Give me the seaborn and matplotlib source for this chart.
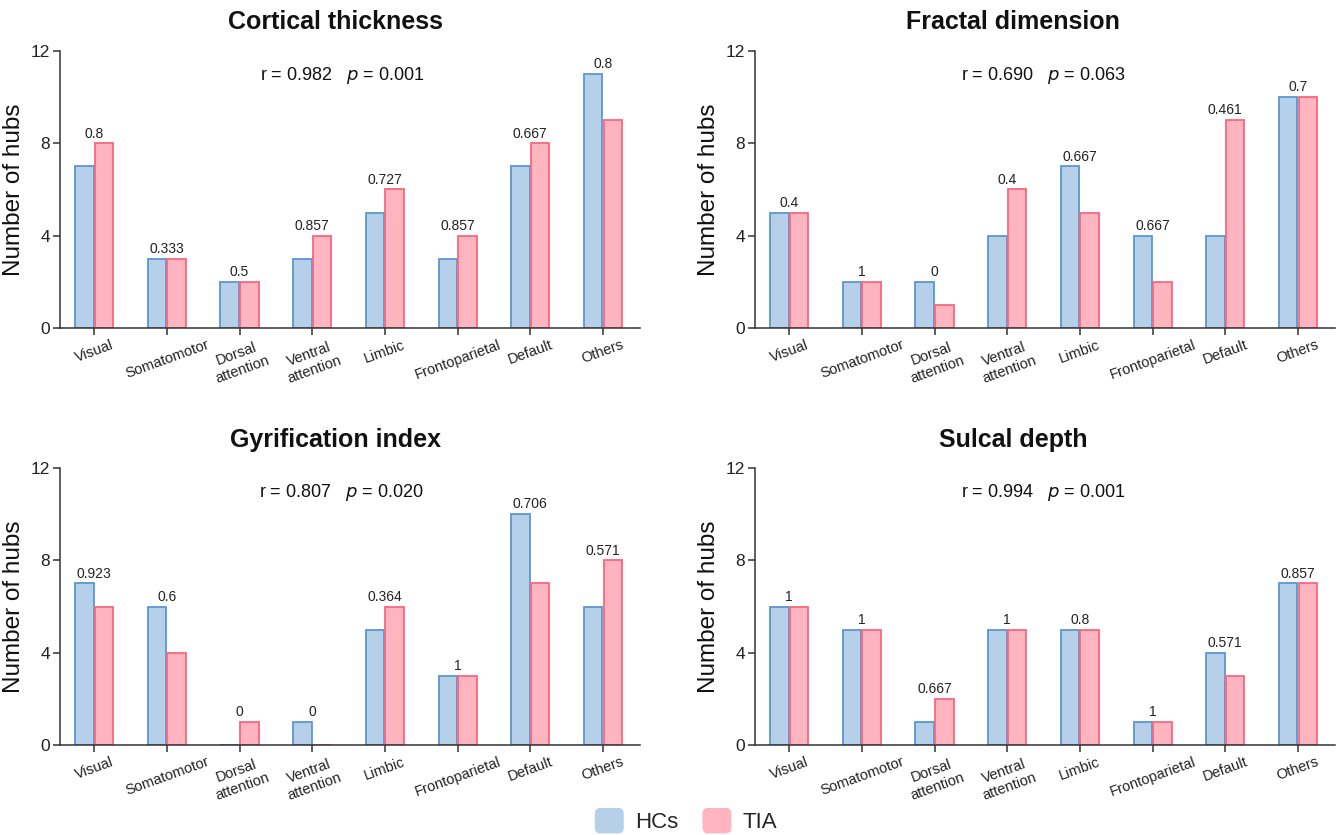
import matplotlib
matplotlib.use("Agg")
import matplotlib.pyplot as plt
import seaborn as sns
import pandas as pd
from matplotlib.patches import FancyBboxPatch
from matplotlib.legend_handler import HandlerPatch

categories = ["Visual", "Somatomotor", "Dorsal\nattention", "Ventral\nattention",
              "Limbic", "Frontoparietal", "Default", "Others"]
groups = ["HCs", "TIA"]

titles = ["Cortical thickness", "Fractal dimension", "Gyrification index", "Sulcal depth"]
r_values = ["0.982", "0.690", "0.807", "0.994"]
p_values = ["0.001", "0.063", "0.020", "0.001"]

ct_hc = [7, 3, 2, 3, 5, 3, 7, 11]
ct_tia = [8, 3, 2, 4, 6, 4, 8, 9]
ct_lab = ["0.8", "0.333", "0.5", "0.857", "0.727", "0.857", "0.667", "0.8"]

fd_hc = [5, 2, 2, 4, 7, 4, 4, 10]
fd_tia = [5, 2, 1, 6, 5, 2, 9, 10]
fd_lab = ["0.4", "1", "0", "0.4", "0.667", "0.667", "0.461", "0.7"]

gi_hc = [7, 6, 0, 1, 5, 3, 10, 6]
gi_tia = [6, 4, 1, 0, 6, 3, 7, 8]
gi_lab = ["0.923", "0.6", "0", "0", "0.364", "1", "0.706", "0.571"]

sd_hc = [6, 5, 1, 5, 5, 1, 4, 7]
sd_tia = [6, 5, 2, 5, 5, 1, 3, 7]
sd_lab = ["1", "1", "0.667", "1", "0.8", "1", "0.571", "0.857"]

panels = [(ct_hc, ct_tia, ct_lab), (fd_hc, fd_tia, fd_lab),
          (gi_hc, gi_tia, gi_lab), (sd_hc, sd_tia, sd_lab)]

face = {"HCs": "#b6d0ea", "TIA": "#ffb5c0"}
edge = {"HCs": "#5b97d0", "TIA": "#f9677d"}

sns.set_theme(style="ticks")
plt.rcParams["font.family"] = ["Liberation Sans", "DejaVu Sans"]

fig = plt.figure(figsize=(13.41, 8.35), dpi=100)
W, H = 1341, 835
ax_w = 580 / W
ax_h = 277 / H
positions = [(60 / W, 1 - 328 / H), (755 / W, 1 - 328 / H),
             (60 / W, 1 - 745 / H), (755 / W, 1 - 745 / H)]
title_x = [335 / W, 1013 / W, 335 / W, 1013 / W]
title_y = [1 - 22 / H, 1 - 22 / H, 1 - 440 / H, 1 - 440 / H]
stat_x = [0.486, 0.497, 0.486, 0.497]

for i, (hc, tia, lab) in enumerate(panels):
    ax = fig.add_axes([positions[i][0], positions[i][1], ax_w, ax_h])
    df = pd.DataFrame({
        "Network": categories * 2,
        "Group": ["HCs"] * len(categories) + ["TIA"] * len(categories),
        "Hubs": hc + tia,
    })
    sns.barplot(data=df, x="Network", y="Hubs", hue="Group", order=categories,
                hue_order=groups, palette=face, width=0.54, gap=0.06,
                linewidth=1.3, legend=False, ax=ax)
    for container, g in zip(ax.containers, groups):
        for bar in container:
            bar.set_edgecolor(edge[g])
            bar.set_facecolor(face[g])
    for j, txt in enumerate(lab):
        top = max(hc[j], tia[j])
        ax.annotate(txt, (j, top), xytext=(0, 2), textcoords="offset points",
                    ha="center", va="bottom", fontsize=10, color="#222222")
    ax.set_ylim(0, 12)
    ax.set_xlim(-0.47, 7.51)
    ax.set_yticks([0, 4, 8, 12])
    ax.set_xlabel("")
    ax.set_ylabel("Number of hubs", fontsize=17.5, color="#111111", labelpad=4)
    ax.tick_params(axis="y", labelsize=12.5, length=5, width=1.1, color="#333333",
                   labelcolor="#222222", pad=2)
    ax.tick_params(axis="x", labelsize=10.5, length=5, width=1.1, color="#333333",
                   labelcolor="#222222", pad=2)
    for lbl in ax.get_xticklabels():
        lbl.set_rotation(20)
        lbl.set_ha("center")
        lbl.set_multialignment("center")
    sns.despine(ax=ax)
    for s in ["left", "bottom"]:
        ax.spines[s].set_color("#333333")
        ax.spines[s].set_linewidth(1.1)
    ax.text(stat_x[i], 0.91, f"r = {r_values[i]}   $p$ = {p_values[i]}",
            transform=ax.transAxes, ha="center", va="center", fontsize=13,
            color="#111111")
    fig.text(title_x[i], title_y[i], titles[i], ha="center", va="center",
             fontsize=18, fontweight="bold", color="#111111")


class RoundHandler(HandlerPatch):
    def create_artists(self, legend, orig_handle, xdescent, ydescent, width,
                       height, fontsize, trans):
        p = FancyBboxPatch((-xdescent, -ydescent - 2), width, height + 4,
                           boxstyle="round,pad=0,rounding_size=4",
                           facecolor=orig_handle.get_facecolor(),
                           edgecolor="none", transform=trans)
        return [p]


handles = [plt.Rectangle((0, 0), 1, 1, facecolor=face[g], edgecolor="none")
           for g in groups]
fig.legend(handles, groups, loc="center", bbox_to_anchor=(686 / W, 1 - 822 / H),
           ncol=2, frameon=False, fontsize=16, handlelength=1.3,
           handleheight=1.0, handletextpad=0.5, columnspacing=1.1,
           handler_map={plt.Rectangle: RoundHandler()})

fig.savefig("out.png", dpi=100)
